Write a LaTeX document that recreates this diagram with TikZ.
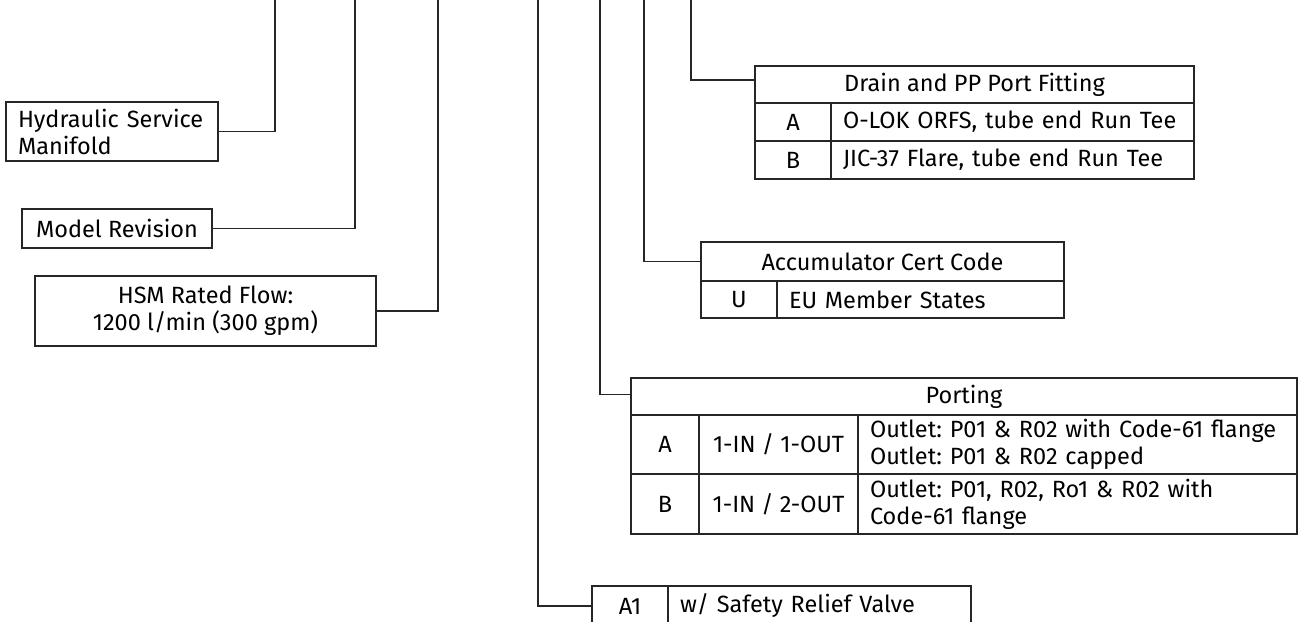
\documentclass[tikz,border=0pt]{standalone}
\usepackage{fontspec}
\setmainfont{Fira Sans}
\usetikzlibrary{positioning}
\colorlet{ln}{black!85}
\newcommand{\codefont}{\fontsize{23.5}{27}\selectfont\frenchspacing}
\tikzset{box/.style={draw=ln, line width=1.5pt, anchor=north west, outer sep=0pt,
            inner xsep=12pt, inner ysep=0pt, font=\codefont},
         cell/.style 2 args={box, minimum width=#1pt, minimum height=#2pt, align=center},
         val/.style 2 args={box, text width=#1pt, minimum height=#2pt, align=left},
         wire/.style={draw=ln, line width=1.5pt}}

\begin{document}
\begin{tikzpicture}[x=1pt, y=-1pt]
\useasboundingbox (0,0) rectangle (1306,621);
\clip (0,0) rectangle (1306,621);
% trunk lines come in from the top edge
\foreach \n/\x in {a/275, b/355, c/438, d/538, e/600, f/644, g/691}
  \coordinate (top\n) at (\x,0);

\node[val={188}{59}] (hsm) at (6,102) {Hydraulic Service\\Manifold};
\node[cell={190}{39}] (rev) at (22,209) {Model Revision};
\node[cell={341}{70}] (flow) at (35,276) {HSM Rated Flow:\\1200 l/min (300 gpm)};

% drain / PP port
\node[cell={439}{37}] (drain) at (755,66) {Drain and PP Port Fitting};
\node[cell={76}{38}, below right=0pt of drain.south west] (drainA) {A};
\node[val={339}{38}, right=0pt of drainA] (drainAt) {O-LOK ORFS, tube end Run Tee};
\node[cell={76}{38}, below=0pt of drainA] (drainB) {B};
\node[val={339}{38}, right=0pt of drainB] (drainBt) {JIC-37 Flare, tube end Run Tee};

% accumulator
\node[cell={363}{39}] (cert) at (701,242) {Accumulator Cert Code};
\node[cell={76}{37}, below right=0pt of cert.south west] (certU) {U};
\node[val={263}{37}, right=0pt of certU] (certUt) {EU Member States};

% porting
\node[cell={666}{37}] (port) at (631,378) {Porting};
\node[cell={68}{59}, below right=0pt of port.south west] (portA) {A};
\node[cell={159}{59}, right=0pt of portA] (portAio) {1-IN / 1-OUT};
\node[val={415}{59}, right=0pt of portAio] (portAt)
  {Outlet: P01 \& R02 with Code-61 flange\\Outlet: P01 \& R02 capped};
\node[cell={68}{60}, below=0pt of portA] (portB) {B};
\node[cell={159}{60}, right=0pt of portB] (portBio) {1-IN / 2-OUT};
\node[val={415}{60}, right=0pt of portBio] (portBt)
  {Outlet: P01, R02, Ro1 \& R02 with\\Code-61 flange};

% relief valve option
\node[cell={76}{40}] (relief) at (592,586) {A1};
\node[val={279}{40}, right=0pt of relief] (reliefT) {w/ Safety Relief Valve};

\draw[wire] (hsm.east) -| (topa);
\draw[wire] (rev.east) -| (topb);
\draw[wire] (flow.east) -| (topc);
\draw[wire] (relief.west) -| (topd);
\draw[wire] ([yshift=2pt]port.west) -| (tope);
\draw[wire] (cert.west) -| (topf);
\draw[wire] ([yshift=4.5pt]drain.west) -| (topg);
\end{tikzpicture}
\end{document}
